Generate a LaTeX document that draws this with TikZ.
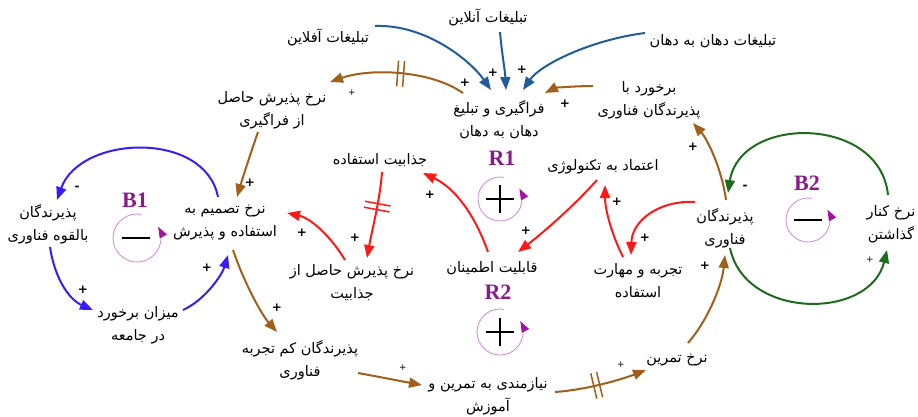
\documentclass[tikz,border=0pt]{standalone}
\usepackage{fontspec}
\usetikzlibrary{arrows.meta,decorations.markings}
\newfontfamily\fafont[Script=Arabic]{DejaVu Sans}
\newfontfamily\loopfont{Liberation Serif}
\newfontfamily\plfont{DejaVu Sans}
\TeXXeTstate=1
\newcommand\fa[1]{\beginR#1\endR}
\definecolor{cblue}{HTML}{1F5C99}
\definecolor{cviolet}{HTML}{3A1CF5}
\definecolor{cbrown}{HTML}{A0601A}
\definecolor{cgreen}{HTML}{1E6B1E}
\definecolor{cred}{HTML}{FF1A1A}
\definecolor{cloop}{HTML}{D490D8}
\definecolor{cloopar}{HTML}{A0149F}
\definecolor{clabel}{HTML}{8A1A8A}
\begin{document}
\begin{tikzpicture}[x=1pt,y=1pt,
  txt/.style={font=\fafont\fontsize{14.5}{23}\selectfont, align=center, inner sep=0pt},
  cl/.style={line width=2pt, -{Triangle[length=13pt,width=10pt]}},
  pl/.style={font=\plfont\bfseries\fontsize{12}{12}\selectfont, inner sep=0pt},
  spl/.style={font=\plfont\fontsize{9}{9}\selectfont, inner sep=0pt},
  mn/.style={font=\plfont\bfseries\fontsize{12}{12}\selectfont, inner sep=0pt},
  delay/.style={postaction={decorate,decoration={markings,mark=at position #1 with {\draw[-,line width=1.5pt] (-3,-13)--(-3,13) (3,-13)--(3,13);}}}},
  looplbl/.style={font=\loopfont\bfseries\fontsize{22}{22}\selectfont, text=clabel, inner sep=0pt},
  loopc/.style={draw=cloop, line width=0.9pt, -{Triangle[length=11pt,width=8pt,color=cloopar]}}
]
\useasboundingbox (0,0) rectangle (918,-416);

% nodes
\node[txt] (off) at (328,-37) {\fa{تبلیغات آفلاین}};
\node[txt] (on) at (488,-17) {\fa{تبلیغات آنلاین}};
\node[txt] (wom) at (713,-41) {\fa{تبلیغات دهان به دهان}};
\node[txt] (spread) at (499,-120) {\fa{فراگیری و تبلیغ}\\\fa{دهان به دهان}};
\node[txt] (meet) at (649,-100) {\fa{برخورد با}\\\fa{پذیرندگان فناوری}};
\node[txt] (rsp) at (272,-110) {\fa{نرخ پذیرش حاصل}\\\fa{از فراگیری}};
\node[txt] (attr) at (380,-160) {\fa{جذابیت استفاده}};
\node[txt] (trust) at (603,-167) {\fa{اعتماد به تکنولوژی}};
\node[txt] (dec) at (225,-223) {\fa{نرخ تصمیم به}\\\fa{استفاده و پذیرش}};
\node[txt] (pot) at (48,-224) {\fa{پذیرندگان}\\\fa{بالقوه فناوری}};
\node[txt] (cont) at (138,-325) {\fa{میزان برخورد}\\\fa{در جامعه}};
\node[txt] (rattr) at (352,-283) {\fa{نرخ پذیرش حاصل از}\\\fa{جذابیت}};
\node[txt] (rel) at (492,-268) {\fa{قابلیت اطمینان}};
\node[txt] (exp) at (638,-281) {\fa{تجربه و مهارت}\\\fa{استفاده}};
\node[txt] (adopt) at (725,-228) {\fa{پذیرندگان}\\\fa{فناوری}};
\node[txt] (disc) at (891,-224) {\fa{نرخ کنار}\\\fa{گذاشتن}};
\node[txt] (novice) at (300,-360) {\fa{پذیرندگان کم تجربه}\\\fa{فناوری}};
\node[txt] (need) at (488,-396) {\fa{نیازمندی به تمرین و}\\\fa{آموزش}};
\node[txt] (train) at (677,-360) {\fa{نرخ تمرین}};

% blue
\draw[cl,cblue] ([shift={(47,11)}]off.center) .. controls (425,-24) and (470,-60) .. ([shift={(-8,30)}]spread.center);
\draw[cl,cblue] ([shift={(12,-15)}]on.center) .. controls (502,-55) and (505,-70) .. ([shift={(7,30)}]spread.center);
\draw[cl,cblue] ([shift={(-68,8)}]wom.center) .. controls (590,-40) and (540,-65) .. ([shift={(24,30)}]spread.center);
\node[pl] (p1) at (465,-83) {+};
\node[pl] (p2) at (493,-73) {+};
\node[pl] (p3) at (522,-70) {+};

% brown
\draw[cl,cbrown] ([shift={(-56,14)}]meet.center) .. controls (575,-86) and (555,-88) .. ([shift={(46,27)}]spread.center);
\node[pl] (p4) at (565,-104) {+};
\draw[cl,cbrown,delay=0.48] ([shift={(-36,27)}]spread.center) .. controls (430,-70) and (370,-68) .. ([shift={(58,28)}]rsp.center);
\node[spl] (p5) at (352,-93) {+};
\draw[cl,cbrown] ([shift={(-14,-22)}]rsp.center) .. controls (250,-155) and (242,-180) .. ([shift={(12,26)}]dec.center);
\node[pl] (p6) at (250,-183) {+};
\draw[cl,cbrown] ([shift={(8,-27)}]dec.center) .. controls (245,-285) and (262,-315) .. ([shift={(-23,28)}]novice.center);
\node[pl] (p7) at (277,-308) {+};
\draw[cl,cbrown] ([shift={(58,-13)}]novice.center) .. controls (380,-377) and (400,-381) .. ([shift={(-66,11)}]need.center);
\node[spl] (p8) at (403,-368) {+};
\draw[cl,cbrown,delay=0.45] ([shift={(67,4)}]need.center) .. controls (585,-390) and (620,-380) .. ([shift={(-31,-10)}]train.center);
\node[spl] (p9) at (621,-365) {+};
\draw[cl,cbrown] ([shift={(11,17)}]train.center) .. controls (708,-320) and (722,-285) .. ([shift={(0,-27)}]adopt.center);
\node[pl] (p10) at (705,-266) {+};
\draw[cl,cbrown] ([shift={(1,28)}]adopt.center) .. controls (722,-170) and (708,-140) .. ([shift={(44,-23)}]meet.center);
\node[pl] (p11) at (693,-147) {+};

% violet B1
\draw[cl,cviolet] ([shift={(-7,26)}]dec.center) .. controls (205,-130) and (80,-135) .. ([shift={(9,24)}]pot.center);
\node[mn] (m1) at (77,-188) {-};
\draw[cl,cviolet] ([shift={(2,-23)}]pot.center) .. controls (55,-280) and (70,-300) .. ([shift={(-45,15)}]cont.center);
\node[pl] (p12) at (83,-290) {+};
\draw[cl,cviolet] ([shift={(45,15)}]cont.center) .. controls (205,-300) and (222,-275) .. ([shift={(3,-32)}]dec.center);
\node[pl] (p13) at (207,-268) {+};

% green B2
\draw[cl,cgreen] ([shift={(5,-20)}]adopt.center) .. controls (745,-320) and (870,-320) .. ([shift={(-4,-26)}]disc.center);
\node[spl] (p14) at (870,-260) {+};
\draw[cl,cgreen] ([shift={(-3,29)}]disc.center) .. controls (880,-115) and (740,-115) .. ([shift={(3,35)}]adopt.center);
\node[mn] (m2) at (745,-187) {-};

% red
\draw[cl,cred,delay=0.4] ([shift={(2,-12)}]attr.center) .. controls (380,-200) and (372,-230) .. ([shift={(15,25)}]rattr.center);
\node[pl] (p15) at (355,-238) {+};
\draw[cl,cred] ([shift={(-7,23)}]rattr.center) .. controls (330,-235) and (310,-218) .. ([shift={(62,10)}]dec.center);
\node[pl] (p16) at (302,-233) {+};
\draw[cl,cred] ([shift={(-4,16)}]rel.center) .. controls (475,-215) and (455,-188) .. ([shift={(43,-13)}]attr.center);
\node[pl] (p17) at (430,-195) {+};
\draw[cl,cred] ([shift={(-6,-13)}]trust.center) .. controls (570,-210) and (540,-235) .. ([shift={(26,16)}]rel.center);
\node[pl] (p18) at (526,-231) {+};
\draw[cl,cred] ([shift={(-15,24)}]exp.center) .. controls (612,-235) and (605,-210) .. ([shift={(2,-18)}]trust.center);
\node[pl] (p19) at (617,-202) {+};
\draw[cl,cred] ([shift={(-30,26)}]adopt.center) .. controls (660,-200) and (632,-220) .. ([shift={(-7,26)}]exp.center);
\node[pl] (p20) at (645,-238) {+};

% loop markers
\node[looplbl] (R1) at (502,-158) {R1};
\draw[loopc] (500,-199) ++(80:22) arc[start angle=80,end angle=388,radius=22];
\draw[line width=2pt] (486,-199) -- (514,-199) (500,-185) -- (500,-213);
\node[looplbl] (R2) at (498,-292) {R2};
\draw[loopc] (500,-332) ++(80:23) arc[start angle=80,end angle=388,radius=23];
\draw[line width=2pt] (486,-332) -- (514,-332) (500,-318) -- (500,-346);
\node[looplbl] (B1) at (135,-200) {B1};
\draw[loopc] (137,-238) ++(80:24) arc[start angle=80,end angle=388,radius=24];
\draw[line width=2.5pt] (122,-238) -- (150,-238);
\node[looplbl] (B2) at (807,-183) {B2};
\draw[loopc] (808,-220) ++(80:22) arc[start angle=80,end angle=388,radius=22];
\draw[line width=2.5pt] (794,-220) -- (822,-220);
\end{tikzpicture}
\end{document}
